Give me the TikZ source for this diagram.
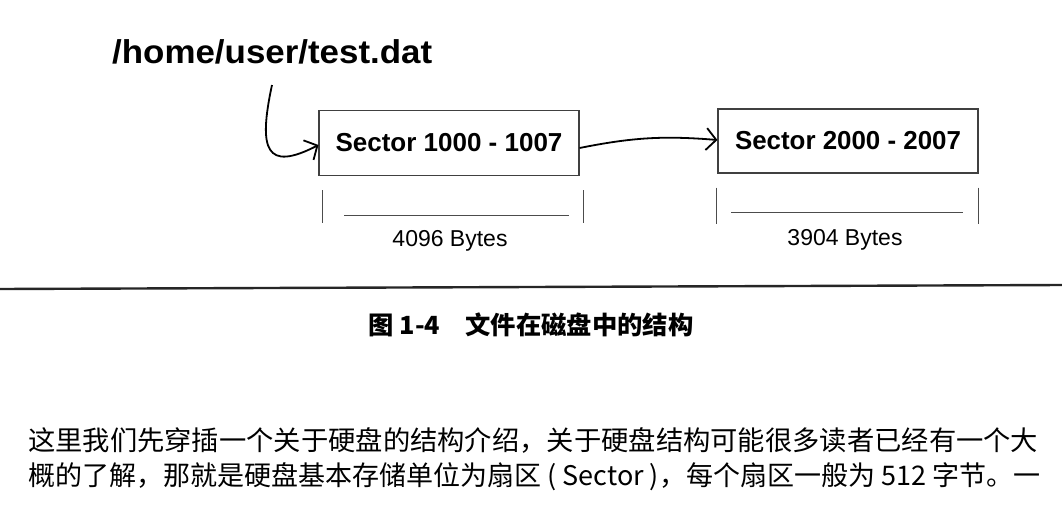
\documentclass[tikz,border=0pt]{standalone}
\usepackage{fontspec}
\usepackage{graphicx}
\setmainfont{Liberation Sans}
\newfontfamily\cjk{Noto Sans CJK SC}
\usetikzlibrary{arrows.meta, positioning}
\newcommand{\fitto}[2]{\resizebox{#1}{\height}{#2}}

\begin{document}
\begin{tikzpicture}[
    x=1pt, y=-1pt,
    sectorbox/.style={draw=black!75, line width=1.1pt, minimum width=260pt,
                      minimum height=65pt, inner sep=0pt,
                      font=\fontsize{26}{30}\selectfont\bfseries},
    bytes/.style={inner sep=0pt, font=\fontsize{23}{26}\selectfont},
    tick/.style={black!70, line width=1pt},
    arrow/.style={-{Straight Barb[length=10pt, width=22pt, line width=1.8pt]},
                  line width=1.8pt}
]
    \useasboundingbox (0,0) rectangle (1062,522);

    % Path name and sectors
    \node[anchor=base west, inner sep=0pt, font=\fontsize{33}{38}\selectfont\bfseries]
        (fname) at (112,63) {\fitto{320pt}{/home/user/test.dat}};
    \node[sectorbox] (first) at (449,143) {\fitto{227pt}{Sector 1000 - 1007}};
    \node[sectorbox, minimum height=64pt] (second) at (848,141) {\fitto{226pt}{Sector 2000 - 2007}};
    \coordinate (start) at (272,85);

    % Arrows
    \draw[arrow] (start) .. controls (258,150) and (266,172) .. ([yshift=-2]first.west);
    \draw[arrow, bend left=8] ([yshift=-5]first.east) to ([yshift=1]second.west);

    % Sizes under the sectors
    \draw[tick] ([xshift=4,yshift=-14]first.south west) -- ++(0,33);
    \draw[tick] ([xshift=4,yshift=-14]first.south east) -- ++(0,33);
    \draw[tick] ([xshift=26,yshift=-39]first.south west) -- ([xshift=-11,yshift=-39]first.south east);
    \node[bytes] (size1) at (450,241) {4096 Bytes};

    \draw[tick] ([xshift=-1,yshift=-14]second.south west) -- ++(0,36);
    \draw[tick] ([yshift=-14]second.south east) -- ++(0,36);
    \draw[tick] ([xshift=14,yshift=-39]second.south west) -- ([xshift=-16,yshift=-39]second.south east);
    \node[bytes] (size2) at (845,240) {3904 Bytes};

    % Caption and text
    \draw[line width=2.4pt, black!85] (0,289) -- (1062,285);
    \node[inner sep=0pt, font=\fontsize{25}{28}\selectfont\cjk\bfseries]
        (caption) at (531,325) {\fitto{325pt}{图 1-4\quad 文件在磁盘中的结构}};
    \node[anchor=west, inner sep=0pt, font=\fontsize{27}{30}\selectfont\cjk]
        (line1) at (28,440) {\fitto{1010pt}{这里我们先穿插一个关于硬盘的结构介绍，关于硬盘结构可能很多读者已经有一个大}};
    \node[anchor=west, inner sep=0pt, font=\fontsize{27}{30}\selectfont\cjk]
        (line2) at (28,477) {\fitto{1012pt}{概的了解，那就是硬盘基本存储单位为扇区 ( Sector )，每个扇区一般为 512 字节。一}};
\end{tikzpicture}
\end{document}
